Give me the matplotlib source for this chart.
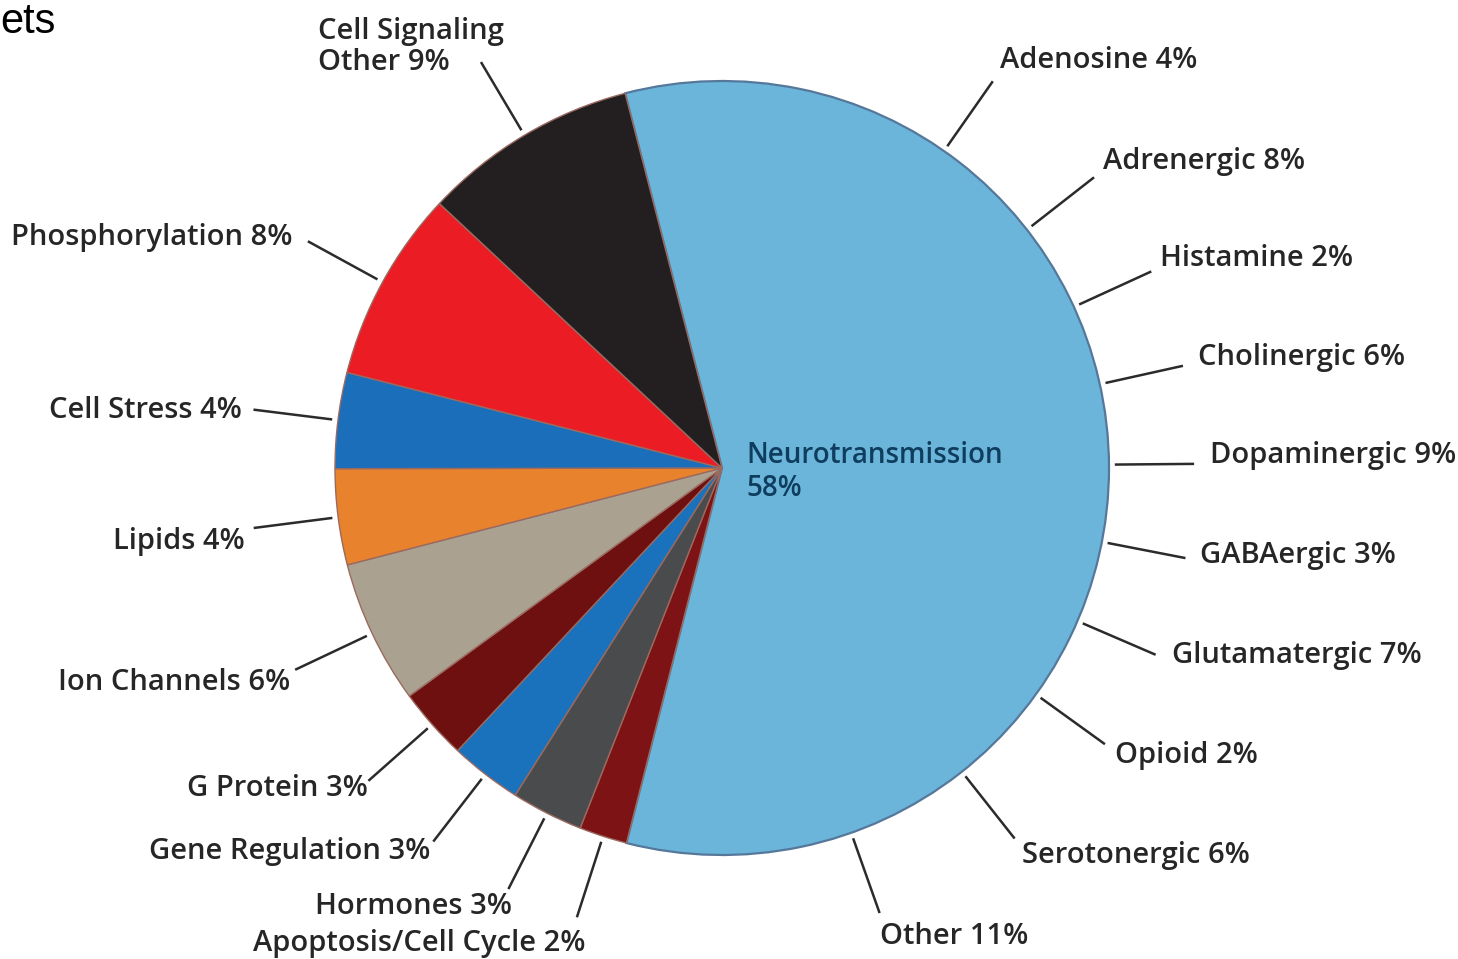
import numpy as np
import matplotlib.pyplot as plt

# main slices, clockwise starting at the top
categories = ["Neurotransmission", "Apoptosis/Cell Cycle", "Hormones", "Gene Regulation",
              "G Protein", "Ion Channels", "Lipids", "Cell Stress", "Phosphorylation",
              "Cell Signaling\nOther"]
shares = [58, 2, 3, 3, 3, 6, 4, 4, 8, 9]
colors = ["#6bb5db", "#7d1315", "#4a4b4d", "#1a72bd", "#6e0f10",
          "#aaa190", "#e8822c", "#1b6fba", "#ec1c24", "#231f20"]

# break-down of the neurotransmission slice
neuro_names = ["Adenosine", "Adrenergic", "Histamine", "Cholinergic", "Dopaminergic",
               "GABAergic", "Glutamatergic", "Opioid", "Serotonergic", "Other"]
neuro_shares = [4, 8, 2, 6, 9, 3, 7, 2, 6, 11]

# layout (pixels, y down)
W, H = 1458, 959
CX, CY, R = 722, 468, 387
START = 104.5
neuro_angles = [55, 38, 24.6, 12.5, 0.5, -11, -23.3, -35.8, -51.7, -70.5]
left_text = [(586, 943), (512, 907), (430, 851), (368, 788), (290, 683),
             (245, 541), (242, 410), (293, 237), (318, 47)]
right_text = [(1000, 60), (1103, 162), (1160, 258), (1198, 357), (1210, 456),
              (1200, 555), (1172, 655), (1115, 755), (1022, 855), (880, 937)]

TXT = "#262626"
FONT = dict(family="Open Sans", weight="semibold", fontsize=21, color=TXT)

fig = plt.figure(figsize=(W / 100, H / 100), dpi=100)
ax = fig.add_axes([0, 0, 1, 1])

# y axis points down, so counterclockwise in data is clockwise on screen
wedges, _ = ax.pie(shares, colors=colors, startangle=-START, counterclock=True,
                   center=(CX, CY), radius=R,
                   wedgeprops=dict(linewidth=1.0, edgecolor="#9a6a60"))
wedges[0].set_edgecolor("#55789a")
wedges[0].set_linewidth(1.6)
ax.set_xlim(0, W)
ax.set_ylim(H, 0)
ax.set_aspect("equal")
ax.axis("off")


def rim(angle, k):
    a = np.radians(angle)
    return CX + k * R * np.cos(a), CY - k * R * np.sin(a)


def leader(angle):
    x1, y1 = rim(angle, 1.015)
    x2, y2 = rim(angle, 1.22)
    ax.plot([x1, x2], [y1, y2], color="#2b2b2b", lw=1.8, solid_capstyle="butt")


# labels of the small slices
cum = np.cumsum([0] + shares[:-1])
for i in range(1, len(shares)):
    mid = START - 360 * (cum[i] + shares[i] / 2) / 100
    leader(mid)
    tx, ty = left_text[i - 1]
    label = f"{categories[i]} {shares[i]}%"
    if "\n" in categories[i]:
        ax.text(tx, ty, label, ha="left", va="center", multialignment="left",
                linespacing=1.1, **FONT)
    else:
        ax.text(tx, ty, label, ha="right", va="center", **FONT)

# labels around the neurotransmission slice
for name, s, ang, (tx, ty) in zip(neuro_names, neuro_shares, neuro_angles, right_text):
    leader(ang)
    ax.text(tx, ty, f"{name} {s}%", ha="left", va="center", **FONT)

ax.text(746, 472, f"{categories[0]}\n{shares[0]}%", ha="left", va="center",
        linespacing=1.15, family="Open Sans", weight="semibold", fontsize=20,
        color="#0f3d5e")

ax.text(0, 33, "ets", ha="left", va="baseline", family="Liberation Sans",
        fontsize=30, color="black")

fig.savefig("out.png", dpi=100)
